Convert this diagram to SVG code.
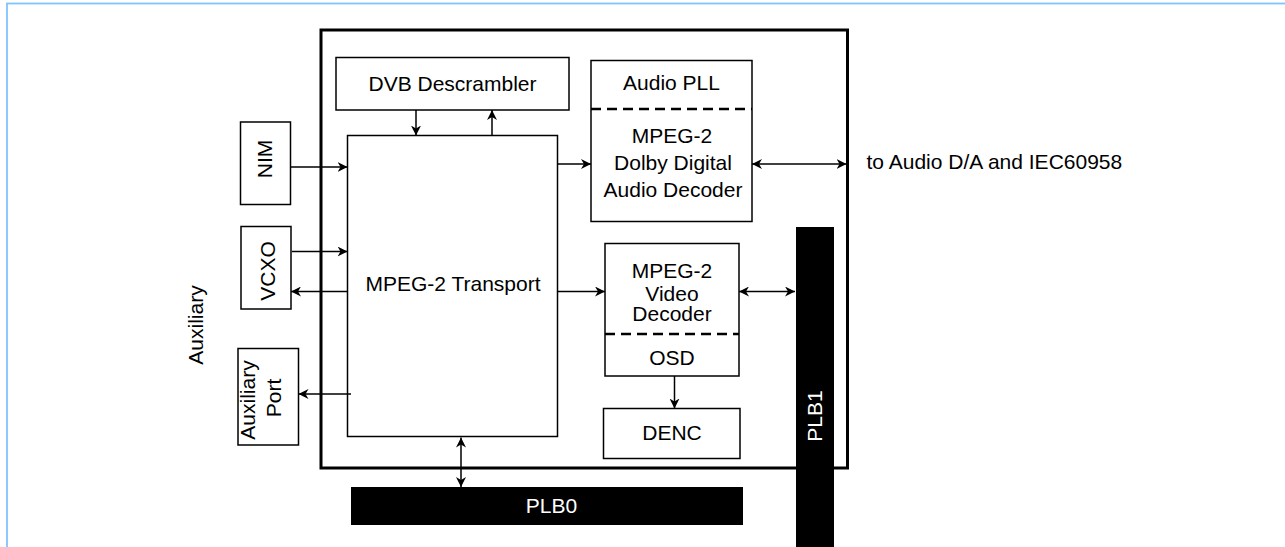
<svg xmlns="http://www.w3.org/2000/svg" width="1285" height="547" viewBox="0 0 1285 547">
  <defs>
    <style>
      text { font-family: "Liberation Sans", Arial, sans-serif; font-size: 21px; fill: #000; }
      .c { text-anchor: middle; }
      .w { fill: #fff; }
      .box { fill: #fff; stroke: #000; stroke-width: 1.5; }
      .bar { fill: #000; stroke: none; }
      .dash { fill: none; stroke: #000; stroke-width: 2.5; stroke-dasharray: 10 6; }
      .conn { fill: none; stroke: #000; stroke-width: 1.5; }
      .one { marker-end: url(#arrow); }
      .two { marker-start: url(#arrow); marker-end: url(#arrow); }
    </style>
    <marker id="arrow" viewBox="0 0 10 10" refX="10" refY="5" markerWidth="10" markerHeight="10" markerUnits="userSpaceOnUse" orient="auto-start-reverse">
      <path d="M0,0 L10,5 L0,10 L3,5 z" fill="#000"/>
    </marker>
  </defs>

  <rect x="7" y="3.5" width="1300" height="570" fill="#fff" stroke="#80c4fc" stroke-width="1.8"/>

  <g id="chip">
    <rect x="321" y="30" width="526.5" height="438" fill="none" stroke="#000" stroke-width="3"/>
  </g>

  <g id="dvb">
    <rect class="box" x="336" y="57.5" width="233" height="52.5"/>
    <text class="c" x="452.5" y="91">DVB Descrambler</text>
  </g>

  <g id="transport">
    <rect class="box" x="347.5" y="135.5" width="210" height="301"/>
    <text class="c" x="453" y="290.5">MPEG-2 Transport</text>
  </g>

  <g id="audio">
    <rect class="box" x="591" y="60.5" width="161" height="161"/>
    <line class="dash" x1="591" y1="109" x2="752" y2="109"/>
    <text class="c" x="671.5" y="90">Audio PLL</text>
    <text class="c" x="672" y="142.5">MPEG-2</text>
    <text class="c" x="673" y="169.5">Dolby Digital</text>
    <text class="c" x="673" y="196.5">Audio Decoder</text>
  </g>

  <g id="video">
    <rect class="box" x="605" y="243.5" width="134" height="132.5"/>
    <line class="dash" x1="605" y1="334" x2="739" y2="334"/>
    <text class="c" x="672" y="278">MPEG-2</text>
    <text class="c" x="672" y="300.5">Video</text>
    <text class="c" x="672" y="320.5">Decoder</text>
    <text class="c" x="672" y="365">OSD</text>
  </g>

  <g id="denc">
    <rect class="box" x="603.5" y="408.5" width="136.5" height="50"/>
    <text class="c" x="672" y="440">DENC</text>
  </g>

  <g id="nim">
    <rect class="box" x="240.5" y="122" width="50" height="82.5"/>
    <text class="c" transform="translate(271.5,159) rotate(-90)">NIM</text>
  </g>

  <g id="vcxo">
    <rect class="box" x="241" y="226.5" width="50" height="82.5"/>
    <text class="c" transform="translate(274.5,271) rotate(-90)">VCXO</text>
  </g>

  <g id="auxport">
    <rect class="box" x="238" y="348.5" width="60.5" height="96.5"/>
    <text class="c" transform="translate(255,400) rotate(-90)">Auxiliary</text>
    <text class="c" transform="translate(281,398) rotate(-90)">Port</text>
  </g>

  <g id="auxlabel">
    <text class="c" transform="translate(202.5,325) rotate(-90)">Auxiliary</text>
  </g>

  <g id="extlabel">
    <text x="866.5" y="168.5">to Audio D/A and IEC60958</text>
  </g>

  <g id="plb0">
    <rect class="bar" x="351" y="487" width="392" height="38"/>
    <text class="c w" x="551.5" y="512.5">PLB0</text>
  </g>

  <g id="plb1">
    <rect class="bar" x="796" y="227" width="38" height="330"/>
    <text class="c w" transform="translate(821.5,416) rotate(-90)">PLB1</text>
  </g>

  <g id="connectors">
    <path class="conn one" d="M291,167 H347.5"/>
    <path class="conn one" d="M416,110 V135.5"/>
    <path class="conn one" d="M492,135.5 V110"/>
    <path class="conn one" d="M557.5,164 H591"/>
    <path class="conn two" d="M752,164 H846.5"/>
    <path class="conn one" d="M292,251.5 H347.5"/>
    <path class="conn one" d="M347.5,291.5 H291"/>
    <path class="conn one" d="M351,394 H298.5"/>
    <path class="conn one" d="M557.5,291.5 H605"/>
    <path class="conn two" d="M739,291.5 H795"/>
    <path class="conn one" d="M674.5,376 V408.5"/>
    <path class="conn two" d="M461,437.5 V487"/>
  </g>
</svg>
